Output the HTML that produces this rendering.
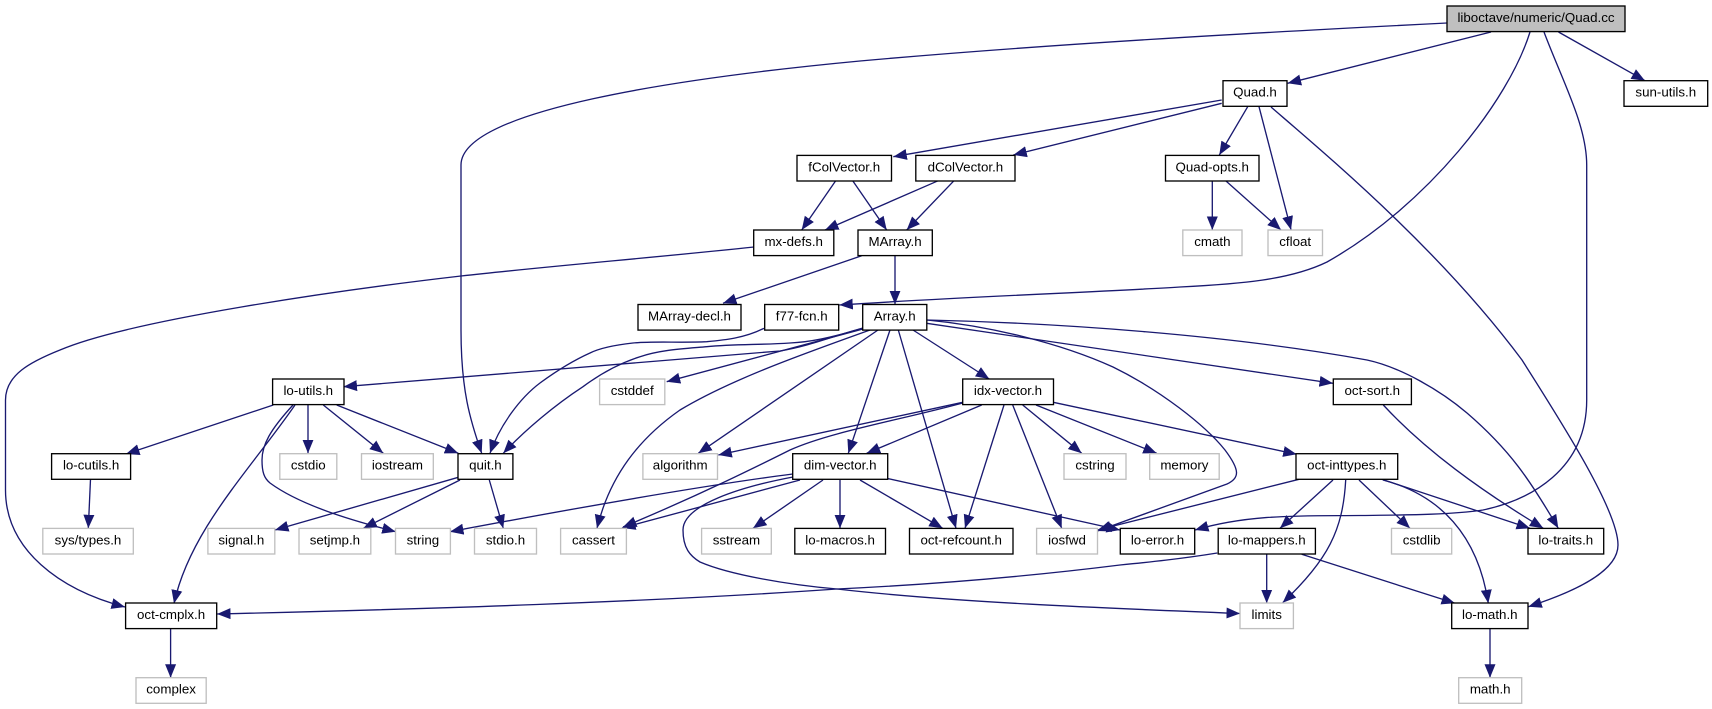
<!DOCTYPE html>
<html><head><meta charset="utf-8"><style>
html,body{margin:0;padding:0;background:#fff}
svg{display:block}
text{font-family:"Liberation Sans",sans-serif;font-size:13.33px;text-anchor:middle;fill:#000}
.e path{fill:none;stroke:#191970;stroke-width:1.33;marker-end:url(#a)}
.n rect{fill:#fff;stroke:#000;stroke-width:1.33}
.g rect{fill:#fff;stroke:#bfbfbf;stroke-width:1.33}
</style></head><body>
<svg width="1712" height="709" viewBox="0 0 1712 709" xmlns="http://www.w3.org/2000/svg">
<defs><marker id="a" markerUnits="userSpaceOnUse" markerWidth="15" markerHeight="13" refX="13.5" refY="6" orient="auto"><path d="M0,0.5L13.5,6L0,11.5z" fill="#191970"/></marker></defs>
<g class="e">
<path d="M1447,23C1250,33 1050,44 860,61C680,78 461,110 461,165L461,330C461,390 470,420 481.7,453.3"/>
<path d="M1491,32L1287.6,83.3"/>
<path d="M1558.5,32L1645,80.7"/>
<path d="M1530,32C1509,100 1428,205 1327,262C1290,280 1240,284 1180,287C1100,292 960,297 839.3,305"/>
<path d="M1544,32C1562,80 1586.7,125 1586.7,165L1586.7,400C1586.7,470 1530,500 1483,510C1450,515 1400,515 1360,515.5C1300,516 1250,514 1195,530"/>
<path d="M1221.7,100L893.3,156.7"/>
<path d="M1221.7,103.3L1013.3,155"/>
<path d="M1247.7,106.7L1219.3,155"/>
<path d="M1259,106.7L1291,229.7"/>
<path d="M1271,107C1330,158 1440,250 1522,360C1560,420 1618,510 1618,545C1618,570 1580,590 1528.3,606.7"/>
<path d="M835.7,180.7L801.7,230"/>
<path d="M852.7,180.7L886.7,230"/>
<path d="M938.3,180.7L825,230"/>
<path d="M954,180.7L906.7,230"/>
<path d="M1212.3,180.7L1212.3,230"/>
<path d="M1225.7,180.7L1281,230"/>
<path d="M754,247C650,258 550,266 461,276C340,290 130,320 60,350C30,362 5.5,375 5.5,400L5.5,490C5.5,550 60,590 125,607"/>
<path d="M861.7,255.7L723,303.3"/>
<path d="M895,255.7L895,304.3"/>
<path d="M764,328.3C745,338 725,340 706.7,341.7C680,343 655,341 633,343C615,345 600,348 590,353C570,362 555,372 540,383C520,398 500,425 490,453.3"/>
<path d="M862.7,328.3C830,338 810,342 790,343C760,345 735,344 706.7,346.7C680,349 660,350 640,356.7C620,363 600,374 583,386.7C555,405 525,430 503.3,453.3"/>
<path d="M863,328C830,337 810,346 780,351L343.5,386.7"/>
<path d="M863,329L666.7,381.7"/>
<path d="M870,330C800,355 730,380 680,410C640,438 610,475 597,528.3"/>
<path d="M878,330L698.3,453.3"/>
<path d="M890,330L848.3,453.3"/>
<path d="M898.3,330L956,528.3"/>
<path d="M913,330L989.3,379"/>
<path d="M927,320C990,326 1060,343 1113,367C1160,390 1205,425 1225,450C1240,470 1240,478 1227,484L1097.5,531"/>
<path d="M926.7,323.3L1333,383.3"/>
<path d="M927,320C1060,323 1230,335 1367,360C1400,367 1440,390 1467,413C1510,450 1530,480 1558.3,528.3"/>
<path d="M273.3,405L126,454"/>
<path d="M295,405C250,470 190,530 174,603.5"/>
<path d="M293,405C270,430 262,445 262,460C262,472 264,478 270,483C300,505 350,520 395.7,531.7"/>
<path d="M308,405L308,453.3"/>
<path d="M323.3,405L383.3,453.3"/>
<path d="M336.7,405L458.3,453.3"/>
<path d="M90.5,479.3L88.3,528.3"/>
<path d="M458.3,477.3L275,530"/>
<path d="M460,480L363.3,528.3"/>
<path d="M489.3,480L503.3,528.3"/>
<path d="M962.7,402.3L718.3,455"/>
<path d="M962.7,403C900,420 830,432 790,450C760,465 700,495 623,527"/>
<path d="M981.7,405L866.7,453.3"/>
<path d="M1004,405L965,528.3"/>
<path d="M1012.7,405L1061.7,528.3"/>
<path d="M1022.7,405L1081.7,453.3"/>
<path d="M1036,405L1156.7,453.3"/>
<path d="M1053.3,402.3L1296.7,454.3"/>
<path d="M1383.3,405C1425,450 1480,490 1543.3,528.3"/>
<path d="M792.7,474C730,482 640,496 450,531.7"/>
<path d="M800,480L622,528"/>
<path d="M793,477C740,487 683,505 683,530C683,548 690,556 700,562C730,575 790,585 837,589C950,602 1100,608 1240,613.5"/>
<path d="M823,480L753,528.3"/>
<path d="M840,480L840,528.3"/>
<path d="M860,480L942.7,528.3"/>
<path d="M886.7,478.3L1120,530"/>
<path d="M1299,479.3L1097.5,530"/>
<path d="M1333,480L1280,528.3"/>
<path d="M1345.7,480C1343,530 1328,560 1282.7,602.7"/>
<path d="M1359,480L1410,528.3"/>
<path d="M1381.7,479.3L1530,528.3"/>
<path d="M1383,480C1440,495 1478,535 1488.3,603.3"/>
<path d="M1217.3,553C1180,559 1150,562 1120,565C1000,580 900,586 837,589C650,602 430,609 217,614"/>
<path d="M1266.7,554.3L1266.7,603.3"/>
<path d="M1301.7,554.3L1455,603.3"/>
<path d="M170.6,629L170.6,677.7"/>
<path d="M1490,629L1490,677.7"/>
</g>
<g class="n">
<rect x="1447" y="6" width="178" height="25.6" style="fill:#bfbfbf"/><text x="1536" y="22">liboctave/numeric/Quad.cc</text>
<rect x="1223" y="80.7" width="64" height="25.6"/><text x="1255" y="96.7">Quad.h</text>
<rect x="1624" y="80.7" width="83.7" height="25.6"/><text x="1665.8" y="96.7">sun-utils.h</text>
<rect x="797" y="155.4" width="94.5" height="25.6"/><text x="844.2" y="171.4">fColVector.h</text>
<rect x="915.8" y="155.4" width="99.2" height="25.6"/><text x="965.4" y="171.4">dColVector.h</text>
<rect x="1165.5" y="155.4" width="93.5" height="25.6"/><text x="1212.2" y="171.4">Quad-opts.h</text>
<rect x="753.7" y="230" width="80.1" height="25.6"/><text x="793.7" y="246">mx-defs.h</text>
<rect x="858" y="230" width="74.3" height="25.6"/><text x="895.1" y="246">MArray.h</text>
<rect x="638" y="304.5" width="103" height="25.6"/><text x="689.5" y="320.5">MArray-decl.h</text>
<rect x="764.7" y="304.5" width="74" height="25.6"/><text x="801.7" y="320.5">f77-fcn.h</text>
<rect x="862.7" y="304.5" width="64.1" height="25.6"/><text x="894.7" y="320.5">Array.h</text>
<rect x="272.6" y="379" width="71.4" height="25.6"/><text x="308.3" y="395">lo-utils.h</text>
<rect x="962.7" y="379" width="90.8" height="25.6"/><text x="1008" y="395">idx-vector.h</text>
<rect x="1333.3" y="379" width="78.1" height="25.6"/><text x="1372.3" y="395">oct-sort.h</text>
<rect x="51.6" y="453.7" width="79" height="25.6"/><text x="91.1" y="469.7">lo-cutils.h</text>
<rect x="458" y="453.7" width="54.9" height="25.6"/><text x="485.4" y="469.7">quit.h</text>
<rect x="792.7" y="453.7" width="95" height="25.6"/><text x="840.2" y="469.7">dim-vector.h</text>
<rect x="1296" y="453.7" width="101.7" height="25.6"/><text x="1346.8" y="469.7">oct-inttypes.h</text>
<rect x="794.8" y="528.4" width="90.7" height="25.6"/><text x="840.1" y="544.4">lo-macros.h</text>
<rect x="909.5" y="528.4" width="103.5" height="25.6"/><text x="961.2" y="544.4">oct-refcount.h</text>
<rect x="1120.3" y="528.4" width="74.4" height="25.6"/><text x="1157.5" y="544.4">lo-error.h</text>
<rect x="1218.2" y="528.4" width="97.2" height="25.6"/><text x="1266.8" y="544.4">lo-mappers.h</text>
<rect x="1528" y="528.4" width="75.7" height="25.6"/><text x="1565.8" y="544.4">lo-traits.h</text>
<rect x="125.6" y="603" width="91.1" height="25.6"/><text x="171.1" y="619">oct-cmplx.h</text>
<rect x="1451.7" y="603" width="76.3" height="25.6"/><text x="1489.8" y="619">lo-math.h</text>
</g>
<g class="g">
<rect x="1182.8" y="230" width="59.2" height="25.6"/><text x="1212.4" y="246">cmath</text>
<rect x="1268" y="230" width="54.5" height="25.6"/><text x="1295.2" y="246">cfloat</text>
<rect x="599.6" y="379" width="65.2" height="25.6"/><text x="632.2" y="395">cstddef</text>
<rect x="279.8" y="453.7" width="57" height="25.6"/><text x="308.3" y="469.7">cstdio</text>
<rect x="361.5" y="453.7" width="71.8" height="25.6"/><text x="397.4" y="469.7">iostream</text>
<rect x="642.9" y="453.7" width="74.6" height="25.6"/><text x="680.2" y="469.7">algorithm</text>
<rect x="1064" y="453.7" width="62" height="25.6"/><text x="1095" y="469.7">cstring</text>
<rect x="1149.7" y="453.7" width="69.5" height="25.6"/><text x="1184.4" y="469.7">memory</text>
<rect x="42.8" y="528.4" width="90.5" height="25.6"/><text x="88" y="544.4">sys/types.h</text>
<rect x="207.9" y="528.4" width="66.9" height="25.6"/><text x="241.3" y="544.4">signal.h</text>
<rect x="299" y="528.4" width="71.8" height="25.6"/><text x="334.9" y="544.4">setjmp.h</text>
<rect x="395.5" y="528.4" width="54.9" height="25.6"/><text x="422.9" y="544.4">string</text>
<rect x="474.5" y="528.4" width="62" height="25.6"/><text x="505.5" y="544.4">stdio.h</text>
<rect x="560.6" y="528.4" width="65.8" height="25.6"/><text x="593.5" y="544.4">cassert</text>
<rect x="701.6" y="528.4" width="69.7" height="25.6"/><text x="736.4" y="544.4">sstream</text>
<rect x="1036.6" y="528.4" width="60.9" height="25.6"/><text x="1067" y="544.4">iosfwd</text>
<rect x="1391.5" y="528.4" width="60.2" height="25.6"/><text x="1421.6" y="544.4">cstdlib</text>
<rect x="1240" y="603" width="53.4" height="25.6"/><text x="1266.7" y="619">limits</text>
<rect x="136" y="677.7" width="70.2" height="25.6"/><text x="171.1" y="693.7">complex</text>
<rect x="1458.7" y="677.7" width="63" height="25.6"/><text x="1490.2" y="693.7">math.h</text>
</g>
</svg>
</body></html>
